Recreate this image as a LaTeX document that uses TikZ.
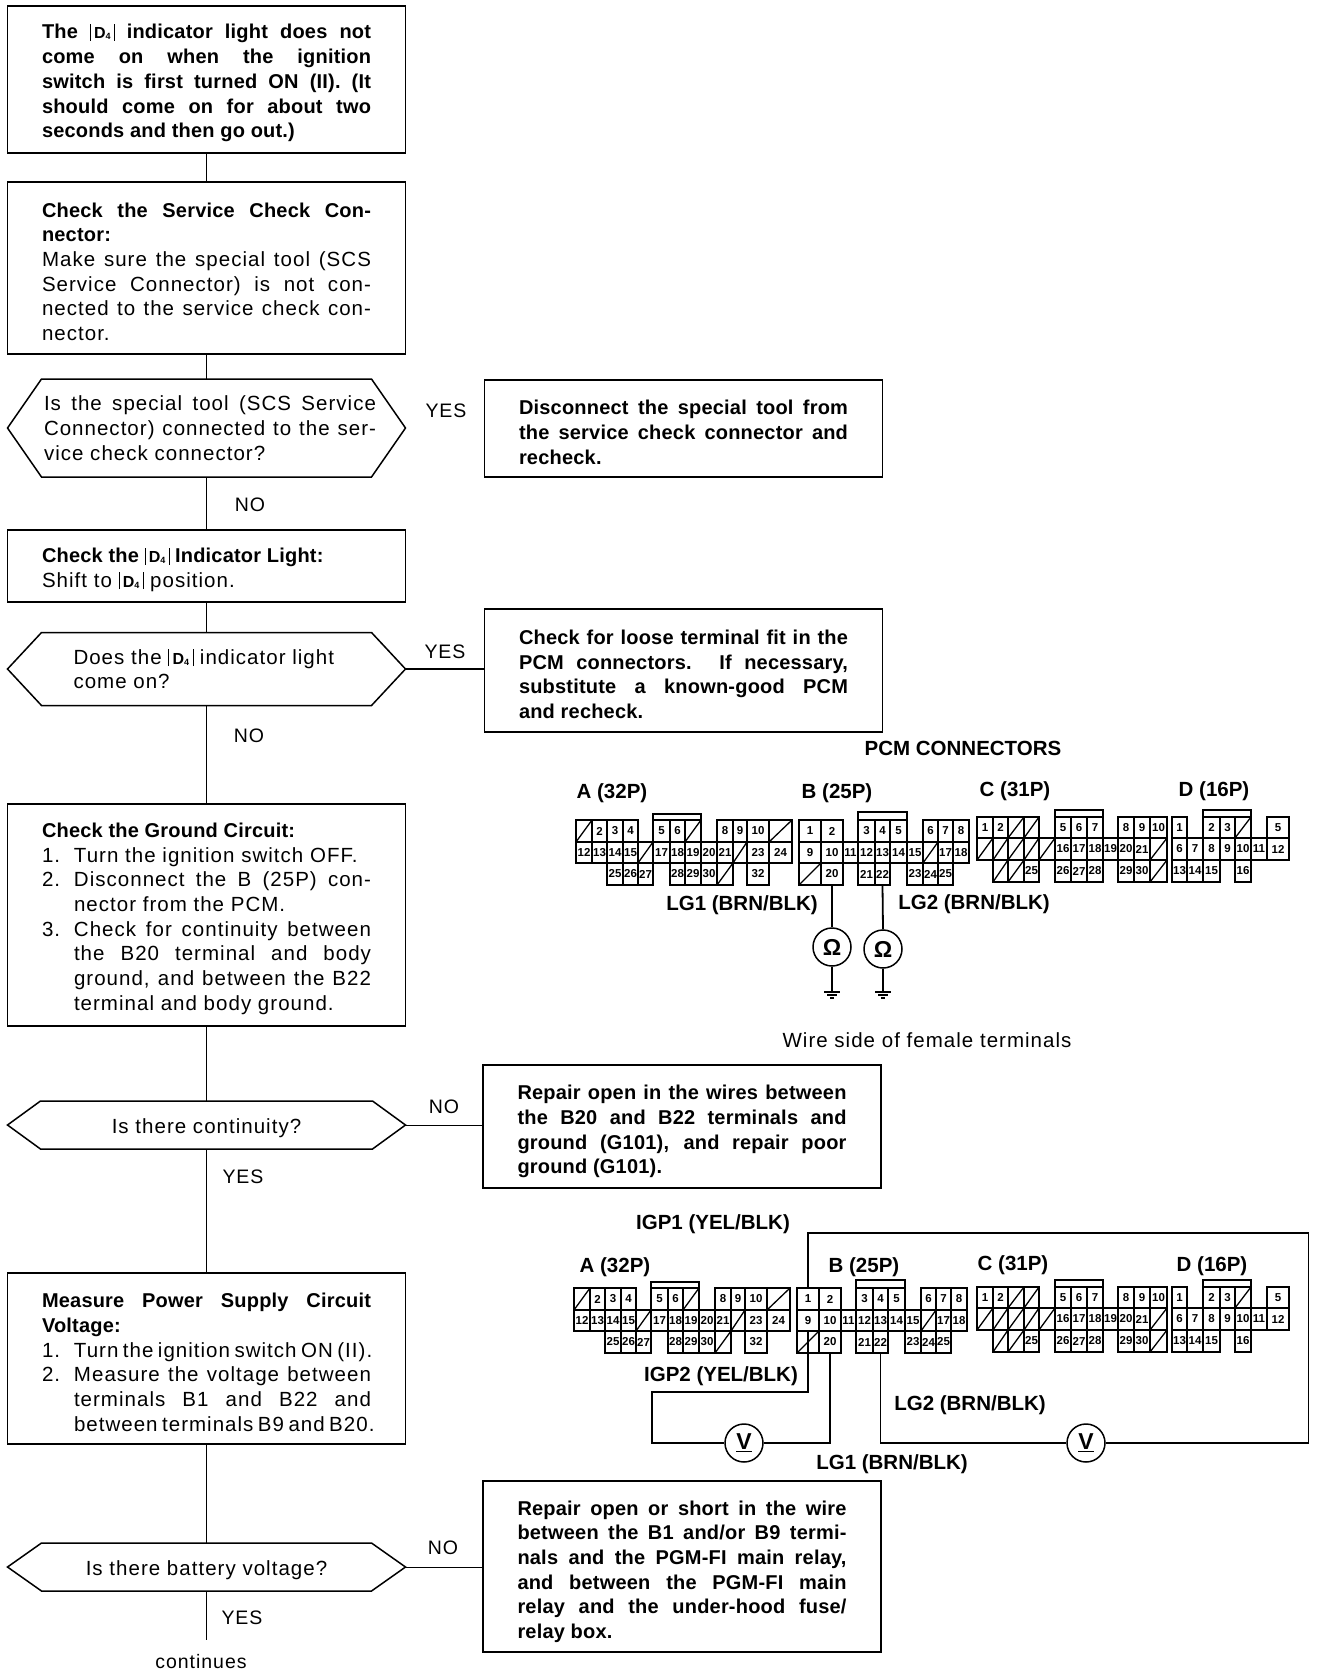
\documentclass[tikz,border=0pt]{standalone}
\usepackage{fontspec}
\setmainfont{Liberation Sans}[UprightFeatures={LetterSpace=5},BoldFeatures={LetterSpace=1}]
\newfontfamily\labelfont{Liberation Sans}
\newcommand{\hd}[1]{{\fontsize{20}{24.7}\selectfont\bfseries #1}}
\newcommand{\tight}[1]{{\addfontfeature{LetterSpace=2.5}#1}}
\newcommand{\fl}[1]{\makebox[329pt][s]{#1}}
\newcommand{\il}[1]{\hspace*{32pt}\makebox[297pt][s]{#1}}
\newcommand{\nl}[2]{\makebox[32pt][l]{#1}\makebox[297pt][s]{#2}}
\newcommand{\dfour}{\rule[-2pt]{0.7pt}{17pt}\,{\fontsize{16}{16}\selectfont\bfseries D\raisebox{-1pt}{\fontsize{9}{9}\selectfont 4}}\,\rule[-2pt]{0.7pt}{17pt}}
\newcommand{\hexframe}[2]{\draw[boxline] (#1.west) -- ([xshift=#2]#1.north west) -- ([xshift=-#2]#1.north east) -- (#1.east) -- ([xshift=-#2]#1.south east) -- ([xshift=#2]#1.south west) -- cycle;}
\newcommand{\pinrow}[4]{\foreach \xa/\xb/\lab in {#4}{\node[pincell,minimum width={(\xb-\xa)*1pt},minimum height={(#3-#2)*1pt}] (#1\lab) at ({(\xa+\xb)/2},{(#2+#3)/2}) {\lab};}}
\newcommand{\deadrow}[4]{\foreach \xa/\xb/\lab in {#4}{\node[pincell,minimum width={(\xb-\xa)*1pt},minimum height={(#3-#2)*1pt}] (#1\lab) at ({(\xa+\xb)/2},{(#2+#3)/2}) {}; \draw[pinline] (#1\lab.south west) -- (#1\lab.north east);}}
\newcommand{\groundsym}[1]{\draw[wire] (#1) +(-8,0) -- +(8,0) +(-5,3) -- +(5,3) +(-2,6) -- +(2,6);}
\newcommand{\connA}[1]{%
\draw[pinline] (653,814) rectangle (701,820);
\pinrow{#1A}{820}{842}{592/607/2,607/623/3,623/638/4,653/670/5,670/685/6,717/733/8,733/747/9,747/769/10}
\deadrow{#1A}{820}{842}{576/592/xa,685/701/xb,769/792/xc}
\pinrow{#1A}{842}{863}{576/592/12,592/607/13,607/623/14,623/638/15,653/670/17,670/685/18,685/701/19,701/717/20,717/733/21,747/769/23,769/792/24}
\deadrow{#1A}{842}{863}{638/653/xd,733/747/xe}
\pinrow{#1A}{863}{885}{607/623/25,623/638/26,638/653/27,670/685/28,685/701/29,701/717/30,747/769/32}
\deadrow{#1A}{863}{885}{717/733/xf}
\draw[pinsep] (576,842) -- (792,842);
}
\newcommand{\connB}[1]{%
\draw[pinline] (858,812) rectangle (907,820);
\pinrow{#1B}{820}{842}{799/821/1,821/843/2,858/875/3,875/890/4,890/907/5,923/938/6,938/953/7,953/969/8}
\pinrow{#1B}{842}{863}{799/821/9,821/843/10,843/858/11,858/875/12,875/890/13,890/907/14,907/923/15,938/953/17,953/969/18}
\deadrow{#1B}{842}{863}{923/938/xa}
\pinrow{#1B}{863}{885}{821/843/20,858/875/21,875/890/22,907/923/23,923/938/24,938/953/25}
\deadrow{#1B}{863}{885}{799/821/xb}
\draw[pinsep] (799,842) -- (969,842);
}
\newcommand{\connC}[1]{%
\draw[pinline] (1055,810) rectangle (1103,817);
\pinrow{#1C}{817}{838}{977/993/1,993/1008/2,1055/1071/5,1071/1087/6,1087/1103/7,1118/1134/8,1134/1150/9,1150/1167/10}
\deadrow{#1C}{817}{838}{1008/1024/xa,1024/1039/xb}
\pinrow{#1C}{838}{860}{1055/1071/16,1071/1087/17,1087/1103/18,1103/1118/19,1118/1134/20,1134/1150/21}
\deadrow{#1C}{838}{860}{977/993/xc,993/1008/xd,1008/1024/xe,1024/1039/xf,1039/1055/xg,1150/1167/xh}
\pinrow{#1C}{860}{882}{1024/1039/25,1055/1071/26,1071/1087/27,1087/1103/28,1118/1134/29,1134/1150/30}
\deadrow{#1C}{860}{882}{993/1008/xi,1008/1024/xj,1150/1167/xk}
\draw[pinsep] (977,838) -- (1167,838);
}
\newcommand{\connD}[1]{%
\draw[pinline] (1203,810) rectangle (1251,817);
\pinrow{#1D}{817}{838}{1172/1187/1,1203/1220/2,1220/1235/3,1267/1289/5}
\deadrow{#1D}{817}{838}{1235/1251/xa}
\pinrow{#1D}{838}{860}{1172/1187/6,1187/1203/7,1203/1220/8,1220/1235/9,1235/1251/10,1251/1267/11,1267/1289/12}
\pinrow{#1D}{860}{882}{1172/1187/13,1187/1203/14,1203/1220/15,1235/1251/16}
\draw[pinsep] (1172,838) -- (1289,838);
}
\begin{document}
\begin{tikzpicture}[x=1pt,y=-1pt]
\tikzset{
  boxline/.style={line width=1.5pt,line join=miter},
  lowered/.style={execute at begin node=\rule{0pt}{#1}},
  flowbox/.style={draw,line width=1.5pt,inner sep=0pt,outer sep=0pt,minimum width=398pt,text width=329pt,align=flush left,lowered=22pt,font=\fontsize{20.5}{24.7}\selectfont},
  hexbox/.style={inner sep=0pt,outer sep=0pt,minimum width=398pt,align=flush left,font=\fontsize{20.5}{24.7}\selectfont},
  boldbox/.style={font=\fontsize{20}{24.7}\selectfont\bfseries},
  answer/.style={inner sep=0pt,font=\fontsize{19.5}{24}\selectfont},
  caption/.style={inner sep=0pt,font=\labelfont\fontsize{20.5}{24}\selectfont\bfseries},
  flowline/.style={line width=1pt},
  sideline/.style={line width=1.5pt},
  pincell/.style={draw,line width=1.3pt,inner sep=0pt,outer sep=0pt,font=\labelfont\fontsize{11.5}{11.5}\selectfont\bfseries},
  pinline/.style={line width=1.3pt},
  pinsep/.style={line width=2pt},
  wire/.style={line width=1.8pt},
  meter/.style={draw,circle,line width=1.5pt,fill=white,inner sep=0pt,minimum size=38pt,font=\labelfont\fontsize{23}{23}\selectfont\bfseries}
}
\useasboundingbox (0,0) rectangle (1328,1674);
%
\node[flowbox,boldbox,minimum height=147pt] (checkStart) at (206.5,79.5) {\fl{The \dfour\ indicator light does not}\\ \fl{come on when the ignition}\\ \fl{switch is first turned ON (II). (It}\\ \fl{should come on for about two}\\ seconds and then go out.)};
\node[flowbox,minimum height=172pt] (checkScs) at (206.5,268) {\hd{\fl{Check the Service Check Con-}}\\ \hd{nector:}\\ \fl{Make sure the special tool (SCS}\\ \fl{Service Connector) is not con-}\\ \fl{nected to the service check con-}\\ nector.};
\node[hexbox,text width=332pt,minimum height=98pt] (askScs) at (206.5,428) {\hspace*{3.5pt}\makebox[332pt][s]{Is the special tool (SCS Service}\\ \hspace*{3.5pt}\makebox[332pt][s]{Connector) connected to the ser-}\\ \hspace*{3.5pt}vice check connector?};
\node[flowbox,boldbox,minimum height=97pt] (fixScs) at (683.5,428.5) {\fl{Disconnect the special tool from}\\ \fl{the service check connector and}\\ recheck.};
\node[flowbox,minimum height=72pt] (checkLight) at (206.5,566) {\hd{Check the \dfour\ Indicator Light:}\\ Shift to \dfour\ position.};
\node[hexbox,text width=266pt,minimum height=73pt] (askLight) at (206.5,669) {Does the \dfour\ indicator light\\ come on?};
\node[flowbox,boldbox,minimum height=123pt] (fixLoose) at (683.5,670.5) {\fl{Check for loose terminal fit in the}\\ \fl{PCM connectors. If necessary,}\\ \fl{substitute a known-good PCM}\\ and recheck.};
\node[flowbox,minimum height=222pt] (checkGround) at (206.5,915) {\hd{Check the Ground Circuit:}\\ \makebox[32pt][l]{1.}Turn the ignition switch OFF.\\ \nl{2.}{Disconnect the B (25P) con-}\\ \hspace*{32pt}nector from the PCM.\\ \nl{3.}{Check for continuity between}\\ \il{the B20 terminal and body}\\ \il{ground, and between the B22}\\ \hspace*{32pt}terminal and body ground.};
\node[hexbox,lowered=22pt,minimum height=48pt,align=center] (askCont) at (206.5,1125) {Is there continuity?};
\node[flowbox,boldbox,lowered=25pt,minimum height=123pt] (fixOpen) at (682,1126.5) {\fl{Repair open in the wires between}\\ \fl{the B20 and B22 terminals and}\\ \fl{ground (G101), and repair poor}\\ ground (G101).};
\node[flowbox,minimum height=171pt] (checkPower) at (206.5,1358.5) {\hd{\fl{Measure Power Supply Circuit}}\\ \hd{Voltage:}\\ \nl{1.}{\tight{Turn the ignition switch ON (II).}}\\ \nl{2.}{Measure the voltage between}\\ \il{terminals B1 and B22 and}\\ \il{\tight{between terminals B9 and B20.}}};
\node[hexbox,lowered=22pt,minimum height=48pt,align=center] (askBatt) at (206.5,1567) {Is there battery voltage?};
\node[flowbox,boldbox,lowered=25pt,minimum height=171pt] (fixRelay) at (682,1566.5) {\fl{Repair open or short in the wire}\\ \fl{between the B1 and/or B9 termi-}\\ \fl{nals and the PGM-FI main relay,}\\ \fl{and between the PGM-FI main}\\ \fl{relay and the under-hood fuse/}\\ relay box.};
\node[answer] (continues) at (201,1662) {continues};
\coordinate (flowEnd) at (206.5,1640);
\hexframe{askScs}{34}
\hexframe{askLight}{34}
\hexframe{askCont}{33}
\hexframe{askBatt}{34}
%
\draw[flowline] (checkStart.south) -- (checkScs.north);
\draw[flowline] (checkScs.south) -- (askScs.north);
\draw[flowline] (askScs.south) -- (checkLight.north);
\draw[flowline] (checkLight.south) -- (askLight.north);
\draw[flowline] (askLight.south) -- (checkGround.north);
\draw[flowline] (checkGround.south) -- (askCont.north);
\draw[flowline] (askCont.south) -- (checkPower.north);
\draw[flowline] (checkPower.south) -- (askBatt.north);
\draw[flowline] (askBatt.south) -- (flowEnd);
\draw[sideline] (askLight.east) -- (askLight.east -| fixLoose.west);
\draw[flowline] (askCont.east) -- (askCont.east -| fixOpen.west);
\draw[flowline] (askBatt.east) -- (askBatt.east -| fixRelay.west);
%
\node[answer] (yesScs) at (446,411) {YES};
\node[answer] (noScs) at (250,505) {NO};
\node[answer] (yesLight) at (445,652) {YES};
\node[answer] (noLight) at (249,736) {NO};
\node[answer] (noCont) at (444,1107) {NO};
\node[answer] (yesCont) at (243,1177) {YES};
\node[answer] (noBatt) at (443,1548) {NO};
\node[answer] (yesBatt) at (242,1618) {YES};
%
\node[caption] (pcmTitle) at (963,748) {PCM CONNECTORS};
\node[caption] (capA) at (612,793) {A (32P)};
\node[caption] (capB) at (837,793) {B (25P)};
\node[caption] (capC) at (1015,791) {C (31P)};
\node[caption] (capD) at (1214,791) {D (16P)};
\node[caption] (capLgOne) at (742,905) {LG1 (BRN/BLK)};
\node[caption] (capLgTwo) at (974,904) {LG2 (BRN/BLK)};
\node[answer,font=\fontsize{20.5}{24}\selectfont] (wireSide) at (927,1040) {Wire side of female terminals};
\connA{u}
\connB{u}
\connC{u}
\connD{u}
\node[meter] (ohmA) at (832,947) {Ω};
\node[meter] (ohmB) at (883,949) {Ω};
\coordinate (gndA) at (832,992);
\coordinate (gndB) at (883,992);
\draw[wire] (uB20.south) -- (ohmA.north);
\draw[wire] (uB22.south) -- (ohmB.north);
\draw[wire] (ohmA.south) -- (gndA);
\draw[wire] (ohmB.south) -- (gndB);
\groundsym{gndA}
\groundsym{gndB}
%
\node[caption] (capIgpOne) at (713,1224) {IGP1 (YEL/BLK)};
\node[caption] (capA2) at (615,1267) {A (32P)};
\node[caption] (capB2) at (864,1267) {B (25P)};
\node[caption] (capC2) at (1013,1265) {C (31P)};
\node[caption] (capD2) at (1212,1266) {D (16P)};
\node[caption] (capIgpTwo) at (721,1376) {IGP2 (YEL/BLK)};
\node[caption] (capLgTwoB) at (970,1405) {LG2 (BRN/BLK)};
\node[caption] (capLgOneB) at (892,1464) {LG1 (BRN/BLK)};
\begin{scope}[shift={(-2,468)}]
\connA{l}
\connB{l}
\end{scope}
\begin{scope}[shift={(0,470)}]
\connC{l}
\connD{l}
\end{scope}
\node[meter] (voltA) at (744,1443) {\underline{V}};
\node[meter] (voltB) at (1086,1443) {\underline{V}};
\coordinate (igpTop) at (1308.5,1233);
\coordinate (igpKnee) at (652,1392);
\draw[wire] (lB1.north) |- (igpTop) |- (voltB.east);
\draw[wire] (voltB.west) -| (lB22.south);
\draw[wire] (lBxb.north) |- (igpKnee) |- (voltA.west);
\draw[wire] (voltA.east) -| (lB20.south);
\end{tikzpicture}
\end{document}
